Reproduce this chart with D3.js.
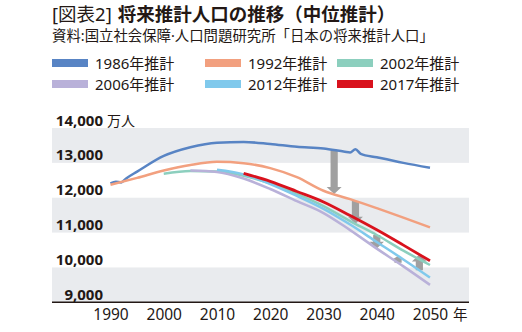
<!DOCTYPE html>
<html>
<head>
<meta charset="utf-8">
<script src="https://cdn.jsdelivr.net/npm/d3@7"></script>
<style>
  body { margin: 0; background: #fff; }
  svg text { font-family: "Noto Sans", "Noto Sans CJK JP", sans-serif; fill: #231815; }
</style>
</head>
<body>
<div id="chart"></div>
<script>
// 推計ごとの人口（万人）
var names = ["1986年推計", "1992年推計", "2002年推計", "2006年推計", "2012年推計", "2017年推計"];
var colors = ["#5884c4", "#f2a07f", "#8ccfbe", "#b9b1d9", "#80c9ec", "#d9121d"];

var years1986 = [1990, 1991, 1992, 1993, 1995, 2000, 2005, 2010, 2015, 2020, 2025, 2030, 2034, 2035, 2036, 2037, 2040, 2045, 2050];
var pop1986   = [12410, 12460, 12440, 12560, 12750, 13200, 13450, 13580, 13600, 13540, 13460, 13410, 13320, 13300, 13390, 13260, 13160, 13000, 12860];
var years1992 = [1990, 1995, 2000, 2005, 2010, 2015, 2020, 2025, 2030, 2035, 2040, 2045, 2050];
var pop1992   = [12370, 12570, 12780, 12940, 13030, 12990, 12850, 12590, 12200, 11960, 11700, 11430, 11150];
var years2002 = [2000, 2005, 2010, 2015, 2020, 2025, 2030, 2035, 2040, 2045, 2050];
var pop2002   = [12690, 12770, 12750, 12630, 12410, 12110, 11760, 11330, 10930, 10480, 10070];
var years2006 = [2005, 2010, 2015, 2020, 2025, 2030, 2035, 2040, 2045, 2050];
var pop2006   = [12780, 12740, 12550, 12250, 11900, 11560, 11070, 10540, 10030, 9500];
var years2012 = [2010, 2015, 2020, 2025, 2030, 2035, 2040, 2045, 2050];
var pop2012   = [12800, 12670, 12390, 12050, 11680, 11230, 10730, 10230, 9710];
var years2017 = [2015, 2020, 2025, 2030, 2035, 2040, 2045, 2050];
var pop2017   = [12700, 12470, 12180, 11880, 11490, 11080, 10640, 10190];

var xTicks = [1990, 2000, 2010, 2020, 2030, 2040, 2050];
var yTicks = [9000, 10000, 11000, 12000, 13000, 14000];

// 推計の変化を示す矢印（年、元の推計、次の推計）
var arrowYears = [2032, 2036, 2040, 2044, 2048];
var arrowFrom  = [0, 1, 2, 3, 4];
var arrowTo    = [1, 2, 3, 4, 5];

var series = [
  [years1986, pop1986], [years1992, pop1992], [years2002, pop2002],
  [years2006, pop2006], [years2012, pop2012], [years2017, pop2017]
].map(function(s, i) {
  return { name: names[i], color: colors[i],
           values: s[0].map(function(y, j) { return { year: y, pop: s[1][j] }; }) };
});

var W = 522, H = 332;
var svg = d3.select("#chart").append("svg")
  .attr("width", W).attr("height", H);

var x = d3.scaleLinear().domain([1990, 2050]).range([110.5, 430]);
var y = d3.scaleLinear().domain([9000, 14000]).range([302.3, 128]);
var plotLeft = 52, plotRight = 469;

// title
var title = svg.append("text").attr("x", 52).attr("y", 21).style("font-size", "18.5px");
title.append("tspan").text("[図表2]").style("font-weight", 400);
title.append("tspan").attr("dx", 6).text("将来推計人口の推移（中位推計）").style("font-weight", 700);

svg.append("text").attr("x", 52).attr("y", 41)
  .style("font-size", "14.4px")
  .text("資料:国立社会保障·人口問題研究所「日本の将来推計人口」");

// legend
var legend = svg.append("g").selectAll("g").data(series).enter().append("g")
  .attr("transform", function(d, i) {
    var cx = [52, 205, 337][i % 3];
    var cy = i < 3 ? 63 : 84;
    return "translate(" + cx + "," + cy + ")";
  });
legend.append("rect").attr("x", 0).attr("y", -4).attr("width", 36).attr("height", 8)
  .attr("fill", function(d) { return d.color; });
legend.append("text").attr("x", 43).attr("y", 5.5)
  .style("font-size", "15px")
  .text(function(d) { return d.name; });

// bands
var bands = [[13000, 14000], [11000, 12000], [9000, 10000]];
svg.append("g").selectAll("rect").data(bands).enter().append("rect")
  .attr("x", plotLeft).attr("width", plotRight - plotLeft)
  .attr("y", function(d) { return y(d[1]); })
  .attr("height", function(d) { return y(d[0]) - y(d[1]); })
  .attr("fill", "#e9ebee");

// y labels
svg.append("g").selectAll("text").data(yTicks).enter().append("text")
  .attr("x", 103).attr("y", function(d) { return y(d) - 2.5; })
  .attr("text-anchor", "end")
  .style("font-size", "15px").style("font-weight", 700)
  .text(function(d) { return d3.format(",")(d); });
svg.append("text").attr("x", 107).attr("y", y(14000) - 2.5)
  .style("font-size", "14px").text("万人");

// x axis
var xAxis = svg.append("g").attr("transform", "translate(0," + y(9000) + ")")
  .call(d3.axisBottom(x).tickValues(xTicks).tickSize(0).tickPadding(7).tickFormat(d3.format("d")));
xAxis.select(".domain").remove();
xAxis.selectAll("text").style("font-size", "15.5px").attr("fill", "#231815");
svg.append("line").attr("x1", plotLeft).attr("x2", plotRight)
  .attr("y1", y(9000)).attr("y2", y(9000))
  .attr("stroke", "#231815").attr("stroke-width", 1.5);
svg.append("text").attr("x", x(2050) + 23).attr("y", y(9000) + 17.5)
  .style("font-size", "14.5px").text("年");

// arrows
function popAt(s, yr) {
  var v = s.values;
  var i = d3.bisector(function(d) { return d.year; }).left(v, yr);
  if (v[i].year === yr) return v[i].pop;
  var a = v[i - 1], b = v[i];
  return a.pop + (b.pop - a.pop) * (yr - a.year) / (b.year - a.year);
}
function arrowPath(ax, y1, y2) {
  var len = Math.abs(y2 - y1), dir = y2 > y1 ? 1 : -1;
  var head = Math.min(7, len * 0.5);
  var hw = Math.min(7.5, 4.5 + len * 0.2), sw = 3.6;
  var yb = y2 - dir * head;
  return "M" + (ax - sw) + "," + y1 + "L" + (ax + sw) + "," + y1 +
    "L" + (ax + sw) + "," + yb + "L" + (ax + hw) + "," + yb +
    "L" + ax + "," + y2 + "L" + (ax - hw) + "," + yb +
    "L" + (ax - sw) + "," + yb + "Z";
}
svg.append("g").selectAll("path").data(arrowYears).enter().append("path")
  .attr("d", function(yr, i) {
    return arrowPath(x(yr), y(popAt(series[arrowFrom[i]], yr)), y(popAt(series[arrowTo[i]], yr)));
  })
  .attr("fill", "#a0a0a0");

// lines
var line = d3.line()
  .x(function(d) { return x(d.year); })
  .y(function(d) { return y(d.pop); })
  .curve(d3.curveMonotoneX);
svg.append("g").selectAll("path").data(series).enter().append("path")
  .attr("d", function(d) { return line(d.values); })
  .attr("fill", "none")
  .attr("stroke", function(d) { return d.color; })
  .attr("stroke-width", function(d, i) { return i === 5 ? 2.8 : 2.5; })
  .attr("stroke-linejoin", "round");
</script>
</body>
</html>
